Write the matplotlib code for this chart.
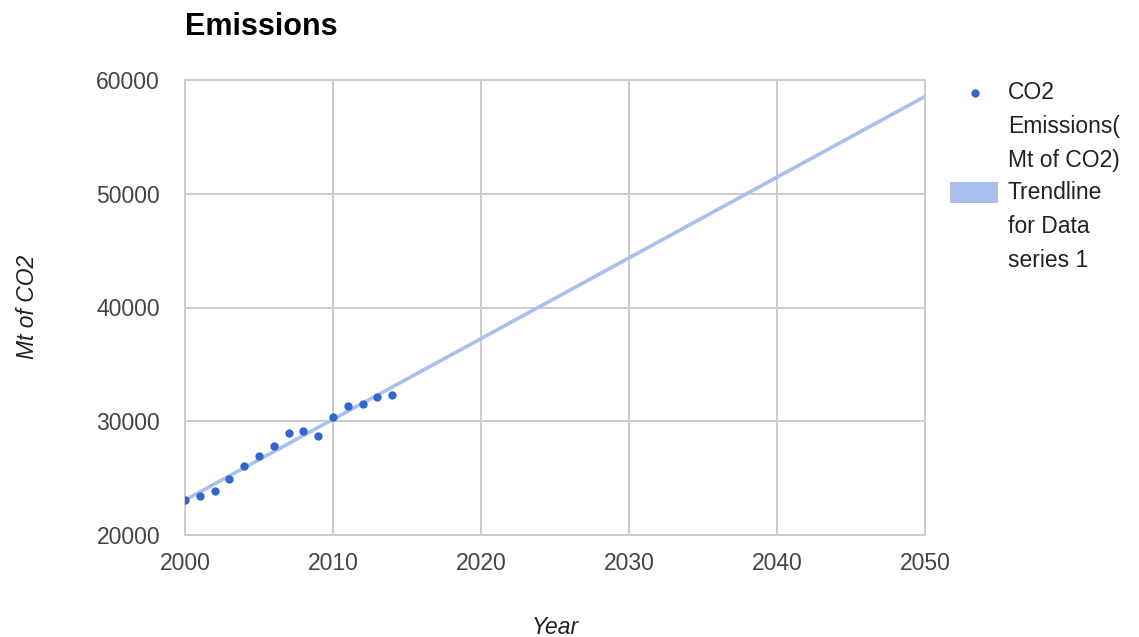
import numpy as np
import matplotlib
matplotlib.use("Agg")
import matplotlib.pyplot as plt
from matplotlib.lines import Line2D
from matplotlib.patches import Rectangle

years = [2000, 2001, 2002, 2003, 2004, 2005, 2006, 2007, 2008, 2009,
         2010, 2011, 2012, 2013, 2014]
co2 = [23077, 23455, 23842, 24897, 26040, 26971, 27851, 28940, 29116, 28703,
       30400, 31314, 31543, 32105, 32334]
x_ticks = [2000, 2010, 2020, 2030, 2040, 2050]
y_ticks = [20000, 30000, 40000, 50000, 60000]
title = "Emissions"
x_title = "Year"
y_title = "Mt of CO2"
series_label = "CO2\nEmissions(\nMt of CO2)"
trend_label = "Trendline\nfor Data\nseries 1"

plt.rcParams['font.family'] = ['Liberation Sans', 'DejaVu Sans']

W, H = 1139, 637
fig = plt.figure(figsize=(W / 100, H / 100), dpi=100)
ax = fig.add_axes([185 / W, 1 - 535 / H, (925 - 185) / W, (535 - 80) / H])

grid_c = "#cccccc"
dot_c = "#3366cc"
trend_c = "#a9c0ee"
txt_c = "#444444"

ax.set_xlim(x_ticks[0], x_ticks[-1])
ax.set_ylim(y_ticks[0], y_ticks[-1])
ax.set_xticks(x_ticks)
ax.set_yticks(y_ticks)
ax.grid(True, color=grid_c, linewidth=1.4)
ax.set_axisbelow(True)
for s in ax.spines.values():
    s.set_color(grid_c)
    s.set_linewidth(1.4)
ax.tick_params(length=0, labelsize=16.5, colors=txt_c)
ax.tick_params(axis='y', pad=18)
ax.tick_params(axis='x', pad=12)

# linear trendline fitted to the data
coef = np.polyfit(years, co2, 1)
tx = np.array([x_ticks[0], x_ticks[-1]], dtype=float)
ax.plot(tx, np.polyval(coef, tx), color=trend_c, linewidth=2.6, zorder=2,
        solid_capstyle='butt')
ax.plot(years, co2, linestyle='none', marker='o', markersize=6,
        color=dot_c, markeredgewidth=0, zorder=3)

fig.text(185 / W, 1 - 27 / H, title, fontsize=22, fontweight='bold',
         color='black', ha='left', va='center')
fig.text(555 / W, 1 - 627 / H, x_title, fontsize=16.5, style='italic',
         color='#222222', ha='center', va='center')
fig.text(27 / W, 1 - 307 / H, y_title, fontsize=16.5, style='italic',
         color='#222222', ha='center', va='center', rotation=90)

# legend (drawn manually)
fig.add_artist(Line2D([975 / W], [1 - 93 / H], marker='o', markersize=6,
                      color=dot_c, markeredgewidth=0, linestyle='none',
                      transform=fig.transFigure))
fig.text(1008 / W, 1 - 81 / H, series_label, fontsize=16.5, color='#222222',
         ha='left', va='top', linespacing=1.6)
fig.add_artist(Rectangle((950 / W, 1 - 203 / H), 48 / W, 21 / H,
                         facecolor=trend_c, edgecolor='none',
                         transform=fig.transFigure))
fig.text(1008 / W, 1 - 181 / H, trend_label, fontsize=16.5, color='#222222',
         ha='left', va='top', linespacing=1.6)

fig.savefig("out.png", dpi=100)
